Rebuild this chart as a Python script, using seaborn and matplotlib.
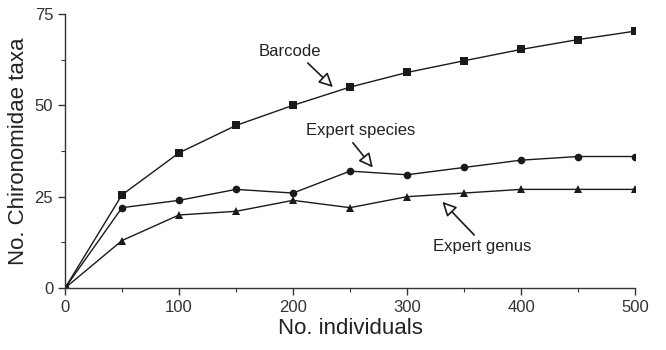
import matplotlib
matplotlib.use("Agg")
import matplotlib.pyplot as plt
from matplotlib.ticker import MultipleLocator
import seaborn as sns
import pandas as pd

individuals = [0, 50, 100, 150, 200, 250, 300, 350, 400, 450, 500]
barcode = [0, 25.5, 37, 44.5, 50, 55, 59, 62.2, 65.3, 68, 70.3]
expert_species = [0, 22, 24, 27, 26, 32, 31, 33, 35, 36, 36]
expert_genus = [0, 13, 20, 21, 24, 22, 25, 26, 27, 27, 27]
series_names = ["Barcode", "Expert species", "Expert genus"]

df = pd.DataFrame({
    "x": individuals * 3,
    "y": barcode + expert_species + expert_genus,
    "series": sum([[n] * len(individuals) for n in series_names], []),
})

sns.set_style("ticks")
plt.rcParams["font.family"] = ["Liberation Sans", "DejaVu Sans"]

fig = plt.figure(figsize=(6.66, 3.5), dpi=100)
ax = fig.add_axes([0.0976, 0.177, 0.8559, 0.783])

sns.lineplot(data=df, x="x", y="y", style="series", hue="series",
             palette={n: "#1a1a1a" for n in series_names},
             markers={"Barcode": "s", "Expert species": "o", "Expert genus": "^"},
             dashes=False, markersize=5.5, markeredgewidth=0, linewidth=1.0,
             legend=False, ax=ax)

ax.set_xlim(0, 500)
ax.set_ylim(0, 75)
ax.xaxis.set_major_locator(MultipleLocator(100))
ax.xaxis.set_minor_locator(MultipleLocator(50))
ax.yaxis.set_major_locator(MultipleLocator(25))
ax.yaxis.set_minor_locator(MultipleLocator(12.5))
ax.tick_params(which="major", length=5, width=1, labelsize=12, colors="#333333")
ax.tick_params(which="minor", length=3, width=0.8, colors="#333333")
for s in ["top", "right"]:
    ax.spines[s].set_visible(False)
for s in ["left", "bottom"]:
    ax.spines[s].set_color("#333333")
    ax.spines[s].set_linewidth(1.0)
ax.set_xlabel("No. individuals", fontsize=16, color="#222222", labelpad=2)
ax.set_ylabel("No. Chironomidae taxa", fontsize=16, color="#222222", labelpad=4)

def arrow(rel):
    return dict(arrowstyle="-|>,head_length=0.7,head_width=0.35", facecolor="white",
                edgecolor="#1a1a1a", lw=1.2, shrinkA=1, shrinkB=0, relpos=rel)

ax.annotate("Barcode", xy=(235, 55), xytext=(197, 64.8), fontsize=12,
            ha="center", va="center", color="#222222", arrowprops=arrow((0.72, 0.0)))
ax.annotate("Expert species", xy=(270, 33), xytext=(259, 43), fontsize=12,
            ha="center", va="center", color="#222222", arrowprops=arrow((0.4, 0.0)))
ax.annotate("Expert genus", xy=(331, 23.6), xytext=(366, 11.3), fontsize=12,
            ha="center", va="center", color="#222222", arrowprops=arrow((0.46, 1.0)))

fig.savefig("out.png", dpi=100)
